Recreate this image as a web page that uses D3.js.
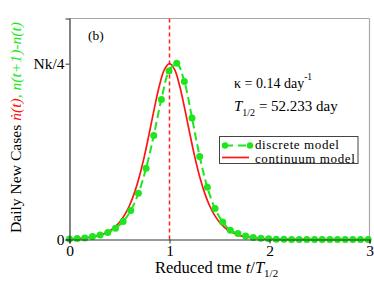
<!DOCTYPE html>
<html><head><meta charset="utf-8">
<script src="https://cdn.jsdelivr.net/npm/d3@7"></script>
<style>
html,body{margin:0;padding:0;background:#fff;}
svg{display:block;}
svg text{font-family:"Liberation Serif","Times New Roman",serif;}
</style></head>
<body>
<svg id="chart" width="374" height="284"></svg>
<script>
// ---- data ----
const T_HALF = 52.233;
const xTicks = [0, 1, 2, 3];
const yTicks = [0, 1];
const yTickLabels = ["0", "Nk/4"];
// discrete model: day t, value n(t+1)-n(t) in units of Nk/4
const discreteDays = [0,4,8,12,16,20,24,28,32,36,40,44,48,52,56,60,64,68,72,76,80,84,88,92,96,100,104,108,112,116,120,124,128,132,136,140,144,148,152,156];
const discreteVals = [0.003,0.005,0.008,0.017,0.026,0.040,0.064,0.102,0.165,0.263,0.405,0.591,0.797,0.958,1.003,0.898,0.691,0.472,0.297,0.176,0.100,0.052,0.034,0.020,0.012,0.007,0.004,0.002,0.001,0,0,0,0,0,0,0,0,0,0,0];
// continuum model: reduced time t/T1/2, value in units of Nk/4
const contTau = [0,0.05,0.1,0.15,0.2,0.25,0.3,0.35,0.4,0.45,0.5,0.55,0.6,0.65,0.7,0.75,0.8,0.85,0.9,0.95,1,1.05,1.1,1.15,1.2,1.25,1.3,1.35,1.4,1.45,1.5,1.55,1.6,1.65,1.7,1.75,1.8,1.85,1.9,1.95,2,2.05,2.1,2.15,2.2,2.25,2.3,2.35,2.4,2.45,2.5,2.55,2.6,2.65,2.7,2.75,2.8,2.85,2.9,2.95,3];
const contVals = [0.0027,0.0038,0.0055,0.0080,0.0115,0.0165,0.0237,0.0339,0.0485,0.0692,0.0982,0.1384,0.1933,0.2666,0.3610,0.4771,0.6108,0.7504,0.8774,0.9673,1.0000,0.9673,0.8774,0.7504,0.6108,0.4771,0.3610,0.2666,0.1933,0.1384,0.0982,0.0692,0.0485,0.0339,0.0237,0.0165,0.0115,0.0080,0.0055,0.0038,0.0027,0.0019,0.0013,0.0009,0.0006,0.0004,0.0003,0.0002,0.0001,0,0,0,0,0,0,0,0,0,0,0,0];
const peakTau = 1;

const RED = "#ff1414", GREEN = "#1ee61e";
const FONT = "Liberation Serif";

const svg = d3.select("#chart");
const L = 69.5, R = 369.5, B = 239.5, T = 18.5;
const x = d3.scaleLinear().domain([0, 3]).range([L, R]);
const y = d3.scaleLinear().domain([0, 1.257]).range([B, T]);

// frame (top/right light grey)
svg.append("line").attr("x1", L).attr("x2", R).attr("y1", T).attr("y2", T).attr("stroke", "#a8a8a8").attr("stroke-width", 1.2);
svg.append("line").attr("x1", R).attr("x2", R).attr("y1", T).attr("y2", B).attr("stroke", "#a8a8a8").attr("stroke-width", 1.2);

// vertical dashed line at peak
svg.append("line").attr("x1", x(peakTau)).attr("x2", x(peakTau)).attr("y1", T).attr("y2", B)
  .attr("stroke", "#ff2020").attr("stroke-width", 1.5).attr("stroke-dasharray", "4,3");

// continuum curve
const cont = contTau.map((t, i) => [t, contVals[i]]);
svg.append("path").datum(cont)
  .attr("d", d3.line().x(d => x(d[0])).y(d => y(d[1])).curve(d3.curveCatmullRom))
  .attr("fill", "none").attr("stroke", RED).attr("stroke-width", 1.7);

// discrete
const disc = discreteDays.map((d, i) => [d / T_HALF, discreteVals[i]]);
svg.append("path").datum(disc)
  .attr("d", d3.line().x(d => x(d[0])).y(d => y(d[1])).curve(d3.curveCatmullRom))
  .attr("fill", "none").attr("stroke", GREEN).attr("stroke-width", 2).attr("stroke-dasharray", "8,4");
svg.append("g").selectAll("circle").data(disc).join("circle")
  .attr("cx", d => x(d[0])).attr("cy", d => y(d[1])).attr("r", 3.5).attr("fill", GREEN);

// axes
const xAxis = d3.axisBottom(x).tickValues(xTicks).tickFormat(d3.format("d")).tickSizeOuter(0).tickSize(4);
const gx = svg.append("g").attr("transform", `translate(0,${B})`).call(xAxis)
  .attr("font-family", FONT);
gx.select(".domain").attr("stroke", "#333").attr("stroke-width", 1.2);
gx.selectAll(".tick line").attr("stroke", "#333");
gx.selectAll("text").attr("font-size", 15.5).attr("fill", "#000").attr("dy", "0.62em");

const yAxis = d3.axisLeft(y).tickValues(yTicks).tickFormat((d, i) => yTickLabels[i]).tickSizeOuter(0).tickSize(4);
const gy = svg.append("g").attr("transform", `translate(${L},0)`).call(yAxis)
  .attr("font-family", FONT);
gy.select(".domain").attr("stroke", "#333").attr("stroke-width", 1.2);
gy.selectAll(".tick line").attr("stroke", "#333");
gy.selectAll("text").attr("font-size", 15.5).attr("fill", "#000").attr("x", -5);

// panel label
svg.append("text").attr("x", 88).attr("y", 40).attr("font-size", 13.5).text("(b)");

// parameters text
const t1 = svg.append("text").attr("x", 234).attr("y", 88).attr("font-size", 14);
t1.append("tspan").text("κ = 0.14 day");
t1.append("tspan").attr("font-size", 9.5).attr("dy", -8).text("-1");
const t2 = svg.append("text").attr("x", 234).attr("y", 111).attr("font-size", 15);
t2.append("tspan").attr("font-style", "italic").text("T");
t2.append("tspan").attr("font-size", 10).attr("dy", 5).text("1/2");
t2.append("tspan").attr("dy", -5).text(" = 52.233 day");

// legend
const lg = svg.append("g");
lg.append("rect").attr("x", 219.5).attr("y", 136.5).attr("width", 138.5).attr("height", 27)
  .attr("fill", "#fff").attr("stroke", "#444").attr("stroke-width", 1);
lg.append("line").attr("x1", 225).attr("x2", 250).attr("y1", 145.5).attr("y2", 145.5)
  .attr("stroke", GREEN).attr("stroke-width", 2).attr("stroke-dasharray", "8,5");
lg.append("circle").attr("cx", 225).attr("cy", 145.5).attr("r", 3.2).attr("fill", GREEN);
lg.append("circle").attr("cx", 250).attr("cy", 145.5).attr("r", 3.2).attr("fill", GREEN);
lg.append("text").attr("x", 255).attr("y", 148.5).attr("font-size", 13).attr("letter-spacing", 0.6).text("discrete model");
lg.append("line").attr("x1", 222).attr("x2", 249).attr("y1", 157.5).attr("y2", 157.5)
  .attr("stroke", RED).attr("stroke-width", 1.7);
lg.append("text").attr("x", 255).attr("y", 162.5).attr("font-size", 13).attr("letter-spacing", 0.6).text("continuum model");

// x label
const xl = svg.append("text").attr("x", 155).attr("y", 273).attr("font-size", 16.5);
xl.append("tspan").text("Reduced tme ");
xl.append("tspan").attr("font-style", "italic").text("t");
xl.append("tspan").text("/");
xl.append("tspan").attr("font-style", "italic").text("T");
xl.append("tspan").attr("font-size", 11).attr("dy", 4).text("1/2");

// y label
const yl = svg.append("text").attr("transform", "translate(21,233) rotate(-90)").attr("font-size", 15.6);
yl.append("tspan").text("Daily New Cases ");
yl.append("tspan").attr("fill", RED).attr("font-style", "italic").text("ṅ(t)");
yl.append("tspan").attr("fill", GREEN).attr("font-style", "italic").text(", n(t+1)-n(t)");
</script>
</body></html>
